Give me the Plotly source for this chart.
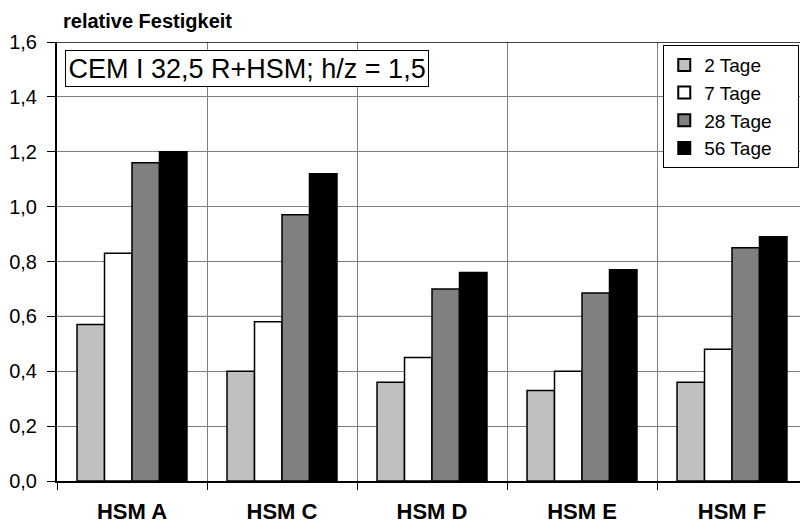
import plotly.graph_objects as go

categories = ["HSM A", "HSM C", "HSM D", "HSM E", "HSM F"]
series_names = ["2 Tage", "7 Tage", "28 Tage", "56 Tage"]
values_2d = [0.57, 0.40, 0.36, 0.33, 0.36]
values_7d = [0.83, 0.58, 0.45, 0.40, 0.48]
values_28d = [1.16, 0.97, 0.70, 0.685, 0.85]
values_56d = [1.20, 1.12, 0.76, 0.77, 0.89]
y_ticks = [0.0, 0.2, 0.4, 0.6, 0.8, 1.0, 1.2, 1.4, 1.6]

fills = ["#C0C0C0", "#FFFFFF", "#808080", "#000000"]
all_values = [values_2d, values_7d, values_28d, values_56d]

fig = go.Figure()
for name, vals, col in zip(series_names, all_values, fills):
    fig.add_trace(go.Bar(
        x=categories, y=vals, name=name + "\u00a0" * 4,
        marker=dict(color=col, line=dict(color="black", width=1.5)),
    ))

font = "Arial, Liberation Sans, sans-serif"
fig.update_layout(
    width=800, height=525,
    margin=dict(l=57, r=0, t=42, b=44),
    paper_bgcolor="white", plot_bgcolor="white",
    barmode="group", bargap=0.267, bargroupgap=0,
    separators=",.",
    font=dict(family=font, size=20, color="black"),
    showlegend=True,
    legend=dict(
        x=0.999, xanchor="right", y=0.993, yanchor="top",
        bgcolor="white", bordercolor="black", borderwidth=1,
        font=dict(size=19, family=font), tracegroupgap=0,
        itemsizing="constant",
    ),
    xaxis=dict(
        range=[-0.5, -0.5 + 743 / 150],
        tickson="boundaries", ticks="outside", ticklen=7, tickcolor="black",
        showgrid=True, gridcolor="#808080", gridwidth=1,
        showline=True, linecolor="black", linewidth=2,
        tickfont=dict(size=22, family=font, weight="bold"),
        ticklabelstandoff=10,
        fixedrange=True,
    ),
    yaxis=dict(
        range=[0, 1.6], tickvals=y_ticks, tickformat=".1f",
        ticks="outside", ticklen=8, tickcolor="black",
        showgrid=True, gridcolor="#808080", gridwidth=1,
        showline=True, linecolor="black", linewidth=2,
        zeroline=False, tickfont=dict(size=20, family=font),
        ticklabelstandoff=6,
        fixedrange=True,
    ),
    annotations=[
        dict(text="<b>relative Festigkeit</b>", xref="paper", yref="paper",
             x=0.006, y=1.0, yshift=8, xanchor="left", yanchor="bottom",
             showarrow=False, font=dict(size=20, family=font)),
        dict(text="CEM I 32,5 R+HSM; h/z = 1,5", xref="paper", yref="paper",
             x=0.011, y=0.982, xanchor="left", yanchor="top",
             showarrow=False, font=dict(size=27, family=font),
             bordercolor="black", borderwidth=1, borderpad=2.5, bgcolor="white"),
    ],
    shapes=[
        dict(type="line", xref="paper", yref="y", x0=0, x1=1, y0=0.6, y1=0.6,
             line=dict(color="black", width=1), layer="below"),
        dict(type="line", xref="paper", yref="y", x0=0, x1=1, y0=1.6, y1=1.6,
             line=dict(color="black", width=1.5)),
    ],
)

fig.write_html("out.html")
